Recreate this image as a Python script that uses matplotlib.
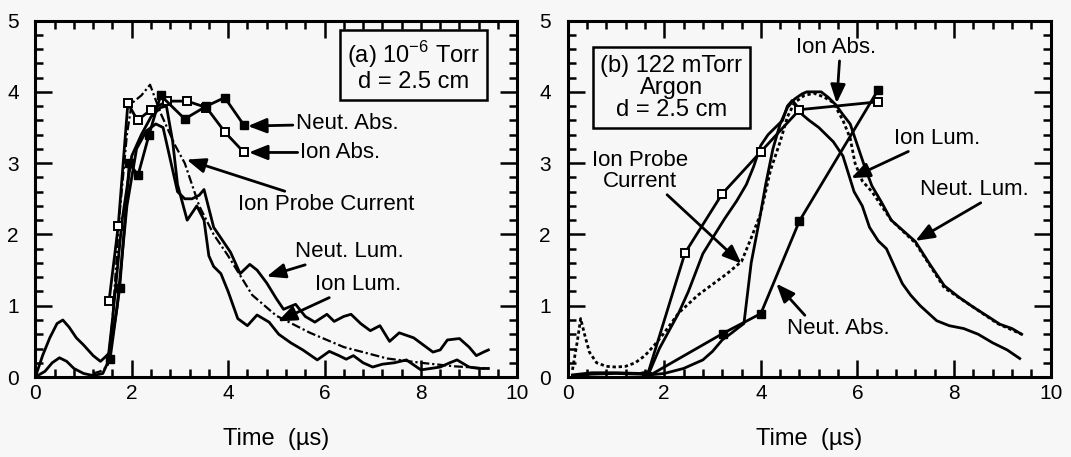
import numpy as np
import matplotlib
matplotlib.use("Agg")
import matplotlib.pyplot as plt
from matplotlib.ticker import MultipleLocator

plt.rcParams['font.family'] = ['Liberation Sans', 'DejaVu Sans']
plt.rcParams['mathtext.fontset'] = 'custom'
plt.rcParams['mathtext.rm'] = 'Liberation Sans'

BG = '#f7f7f7'

# ---------------- panel (a) 10^-6 Torr ----------------
a_neut_abs_x = [1.55, 1.75, 1.95, 2.13, 2.36, 2.6, 3.1, 3.55, 3.93, 4.33]
a_neut_abs_y = [0.25, 1.25, 3.0, 2.83, 3.4, 3.95, 3.62, 3.8, 3.92, 3.53]

a_ion_abs_x = [1.53, 1.72, 1.92, 2.12, 2.4, 2.74, 3.15, 3.55, 3.94, 4.33]
a_ion_abs_y = [1.07, 2.12, 3.84, 3.6, 3.75, 3.87, 3.87, 3.78, 3.43, 3.15]

a_probe_x = [1.2, 1.35, 1.5, 1.6, 1.75, 1.9, 2.0, 2.2, 2.38, 2.6, 2.9, 3.1, 3.4,
             3.7, 4.0, 4.5, 5.0, 5.7, 6.4, 7.3, 8.0, 8.7, 9.4]
a_probe_y = [0.05, 0.08, 0.15, 0.8, 2.3, 3.4, 3.84, 3.95, 4.1, 3.7, 3.25, 3.0, 2.4,
             2.0, 1.7, 1.15, 0.86, 0.62, 0.42, 0.26, 0.2, 0.15, 0.12]

a_neut_lum_x = [0.0, 0.15, 0.3, 0.45, 0.57, 0.7, 0.85, 1.0, 1.2, 1.35, 1.45, 1.55, 1.7,
                1.9, 2.1, 2.3, 2.5, 2.65, 2.8, 2.95, 3.1, 3.25, 3.4, 3.5, 3.7, 3.9,
                4.05, 4.25, 4.45, 4.6, 4.8, 5.0, 5.15, 5.4, 5.6, 5.8, 6.05, 6.2, 6.4,
                6.55, 6.75, 6.95, 7.15, 7.35, 7.55, 7.85, 8.05, 8.25, 8.4, 8.55, 8.8,
                9.0, 9.15, 9.3, 9.4]
a_neut_lum_y = [0.0, 0.3, 0.55, 0.75, 0.8, 0.7, 0.55, 0.45, 0.3, 0.22, 0.28, 0.35, 1.0,
                2.4, 3.2, 3.45, 3.55, 3.5, 3.05, 2.6, 2.5, 2.5, 2.55, 2.63, 2.1, 1.9,
                1.75, 1.45, 1.58, 1.5, 1.32, 1.1, 0.95, 1.02, 0.85, 0.77, 0.88, 0.78,
                0.85, 0.88, 0.75, 0.65, 0.72, 0.5, 0.62, 0.55, 0.45, 0.35, 0.38, 0.52,
                0.54, 0.42, 0.3, 0.35, 0.38]

a_ion_lum_x = [0.0, 0.2, 0.35, 0.5, 0.65, 0.8, 1.0, 1.2, 1.4, 1.5, 1.6, 1.8, 2.0, 2.2,
               2.4, 2.6, 2.72, 2.85, 2.95, 3.05, 3.15, 3.25, 3.35, 3.5, 3.6, 3.7, 3.85,
               4.0, 4.2, 4.4, 4.6, 4.85, 5.05, 5.3, 5.55, 5.85, 6.1, 6.3, 6.45, 6.6,
               6.8, 7.0, 7.2, 7.45, 7.7, 8.0, 8.2, 8.4, 8.6, 8.75, 9.0, 9.2, 9.4]
a_ion_lum_y = [0.0, 0.08, 0.2, 0.27, 0.22, 0.12, 0.05, 0.02, 0.05, 0.2, 0.8, 2.2, 3.1,
               3.4, 3.65, 3.78, 3.8, 3.3, 2.7, 2.45, 2.2, 2.3, 2.4, 2.2, 1.7, 1.55, 1.45,
               1.2, 0.82, 0.72, 0.87, 0.77, 0.6, 0.48, 0.38, 0.24, 0.36, 0.3, 0.25, 0.3,
               0.2, 0.14, 0.18, 0.2, 0.24, 0.1, 0.12, 0.14, 0.2, 0.24, 0.14, 0.12, 0.12]

# ---------------- panel (b) 122 mTorr Argon ----------------
b_ion_abs_x = [1.64, 2.43, 3.2, 4.0, 4.8, 6.43]
b_ion_abs_y = [0.0, 1.74, 2.57, 3.16, 3.75, 3.86]

b_neut_abs_x = [1.64, 3.21, 4.0, 4.8, 6.43]
b_neut_abs_y = [0.0, 0.61, 0.89, 2.19, 4.03]

b_probe_x = [0.1, 0.2, 0.27, 0.35, 0.45, 0.6, 0.8, 1.0, 1.2, 1.4, 1.6, 1.8, 2.0, 2.3,
             2.7, 3.0, 3.3, 3.6, 3.8, 4.0, 4.2, 4.4, 4.55, 4.7, 4.9, 5.1, 5.3, 5.5,
             5.7, 5.85, 5.95, 6.1, 6.3, 6.7, 7.2, 7.8, 8.4, 8.9, 9.4]
b_probe_y = [0.1, 0.5, 0.82, 0.6, 0.35, 0.2, 0.15, 0.14, 0.15, 0.2, 0.3, 0.45, 0.62,
             0.9, 1.15, 1.3, 1.45, 1.62, 1.95, 2.3, 2.9, 3.3, 3.65, 3.85, 3.95, 3.98,
             3.93, 3.85, 3.6, 3.35, 3.0, 2.75, 2.6, 2.2, 1.88, 1.25, 0.98, 0.75, 0.6]

b_neut_lum_x = [0.1, 0.5, 1.0, 1.5, 1.7, 2.0, 2.4, 2.8, 3.0, 3.2, 3.4, 3.55, 3.65, 3.8,
                3.97, 4.1, 4.25, 4.4, 4.55, 4.7, 4.85, 4.95, 5.1, 5.25, 5.4, 5.55, 5.7,
                5.85, 6.0, 6.15, 6.3, 6.5, 6.7, 6.95, 7.2, 7.5, 7.8, 8.1, 8.4, 8.7,
                8.95, 9.2, 9.4]
b_neut_lum_y = [0.02, 0.04, 0.05, 0.04, 0.03, 0.05, 0.12, 0.24, 0.36, 0.52, 0.62, 0.7,
                0.75, 1.6, 2.2, 2.7, 3.2, 3.55, 3.78, 3.9, 3.97, 4.0, 4.0, 4.0, 3.92,
                3.82, 3.68, 3.55, 3.25, 2.95, 2.68, 2.45, 2.2, 2.05, 1.9, 1.58, 1.28,
                1.12, 0.98, 0.85, 0.74, 0.68, 0.6]

b_ion_lum_x = [0.1, 0.5, 1.0, 1.5, 1.7, 1.9, 2.1, 2.3, 2.5, 2.8, 3.0, 3.25, 3.5, 3.7,
               3.85, 4.0, 4.15, 4.3, 4.45, 4.55, 4.65, 4.75, 4.86, 5.0, 5.2, 5.5, 5.7,
               5.93, 6.1, 6.25, 6.43, 6.6, 6.8, 6.93, 7.1, 7.3, 7.64, 7.9, 8.2, 8.5,
               8.8, 9.1, 9.36]
b_ion_lum_y = [0.03, 0.06, 0.06, 0.05, 0.08, 0.4, 0.65, 0.9, 1.2, 1.73, 1.95, 2.22,
               2.47, 2.7, 2.95, 3.25, 3.4, 3.5, 3.6, 3.8, 3.88, 3.8, 3.68, 3.6, 3.5,
               3.3, 3.1, 2.6, 2.4, 2.1, 1.91, 1.8, 1.5, 1.31, 1.15, 1.0, 0.79, 0.72,
               0.68, 0.6, 0.48, 0.38, 0.26]

fig = plt.figure(figsize=(10.71, 4.57), dpi=100, facecolor=BG)
ax1 = fig.add_axes([0.033, 0.175, 0.450, 0.780])
ax2 = fig.add_axes([0.530, 0.175, 0.451, 0.780])

lw = 2.0
dashdot = (0, (4, 1.3, 1.0, 1.3))
dotted = (0, (1.2, 1.0))
FS = 16

for ax in (ax1, ax2):
    ax.set_facecolor(BG)
    ax.set_xlim(0, 10)
    ax.set_ylim(0, 5)
    ax.xaxis.set_major_locator(MultipleLocator(2))
    ax.xaxis.set_minor_locator(MultipleLocator(0.4))
    ax.yaxis.set_major_locator(MultipleLocator(1))
    ax.yaxis.set_minor_locator(MultipleLocator(0.2))
    ax.tick_params(which='both', direction='in', top=True, right=True,
                   width=1.8, colors='black', labelsize=15)
    ax.tick_params(which='major', length=12)
    ax.tick_params(which='minor', length=6)
    ax.tick_params(axis='x', which='major', pad=5)
    ax.tick_params(axis='y', which='major', pad=12)
    for s in ax.spines.values():
        s.set_linewidth(2.2)
    ax.set_xlabel('Time  (\u00b5s)', fontsize=17, labelpad=18)

# panel (a)
ax1.plot(a_neut_lum_x, a_neut_lum_y, color='black', lw=lw)
ax1.plot(a_ion_lum_x, a_ion_lum_y, color='black', lw=lw)
ax1.plot(a_probe_x, a_probe_y, color='black', lw=1.6, linestyle=dashdot)
ax1.plot(a_ion_abs_x, a_ion_abs_y, color='black', lw=lw, marker='s', ms=5.5,
         mfc='white', mec='black', mew=1.4)
ax1.plot(a_neut_abs_x, a_neut_abs_y, color='black', lw=lw, marker='s', ms=6,
         mfc='black', mec='black')

ax1.text(7.84, 4.36, '(a) 10$^{-6}$ Torr\nd = 2.5 cm', ha='center', va='center',
         fontsize=17, linespacing=1.05,
         bbox=dict(boxstyle='square,pad=0.3', fc=BG, ec='black', lw=1.8))

arrow = dict(arrowstyle='-|>,head_length=0.7,head_width=0.28', color='black', lw=2.0,
             shrinkA=0, shrinkB=0)
ax1.annotate('Neut. Abs.', xy=(4.41, 3.52), xytext=(5.4, 3.55), ha='left', va='center',
             fontsize=FS, arrowprops=arrow)
ax1.annotate('Ion Abs.', xy=(4.43, 3.15), xytext=(5.5, 3.15), ha='left', va='center',
             fontsize=FS, arrowprops=arrow)
ax1.annotate('Ion Probe Current', xy=(3.14, 3.05), xytext=(4.2, 2.42), ha='left',
             va='center', fontsize=FS, arrowprops=arrow)
ax1.annotate('Neut. Lum.', xy=(4.8, 1.41), xytext=(5.38, 1.76), ha='left', va='center',
             fontsize=FS, arrowprops=arrow)
ax1.annotate('Ion Lum.', xy=(5.03, 0.78), xytext=(5.8, 1.3), ha='left', va='center',
             fontsize=FS, arrowprops=arrow)

# panel (b)
ax2.plot(b_neut_lum_x, b_neut_lum_y, color='black', lw=lw)
ax2.plot(b_ion_lum_x, b_ion_lum_y, color='black', lw=lw)
ax2.plot(b_probe_x, b_probe_y, color='black', lw=2.0, linestyle=dotted)
ax2.plot(b_ion_abs_x, b_ion_abs_y, color='black', lw=lw, marker='s', ms=5.5,
         mfc='white', mec='black', mew=1.4)
ax2.plot(b_neut_abs_x, b_neut_abs_y, color='black', lw=lw, marker='s', ms=6,
         mfc='black', mec='black')

ax2.text(2.15, 4.06, '(b) 122 mTorr\nArgon\nd = 2.5 cm', ha='center', va='center',
         fontsize=17, linespacing=1.0,
         bbox=dict(boxstyle='square,pad=0.3', fc=BG, ec='black', lw=1.8))

ax2.annotate('Ion Abs.', xy=(5.57, 3.84), xytext=(5.55, 4.62), ha='center', va='center',
             fontsize=FS, arrowprops=dict(arrow, relpos=(0.55, 0.0)))
ax2.annotate('Ion Lum.', xy=(5.87, 2.79), xytext=(6.75, 3.35), ha='left', va='center',
             fontsize=FS, arrowprops=arrow)
ax2.annotate('Neut. Lum.', xy=(7.2, 1.91), xytext=(7.3, 2.63), ha='left', va='center',
             fontsize=FS, arrowprops=dict(arrow, relpos=(0.6, 0.0)))
ax2.annotate('Neut. Abs.', xy=(4.32, 1.31), xytext=(5.6, 0.68), ha='center', va='center',
             fontsize=FS, arrowprops=dict(arrow, relpos=(0.2, 1.0)))
ax2.annotate('Ion Probe\nCurrent', xy=(3.6, 1.59), xytext=(1.5, 2.89), ha='center',
             va='center', fontsize=FS, linespacing=1.0,
             arrowprops=dict(arrow, relpos=(0.75, 0.0)))

fig.savefig('out.png', dpi=100, facecolor=BG)
